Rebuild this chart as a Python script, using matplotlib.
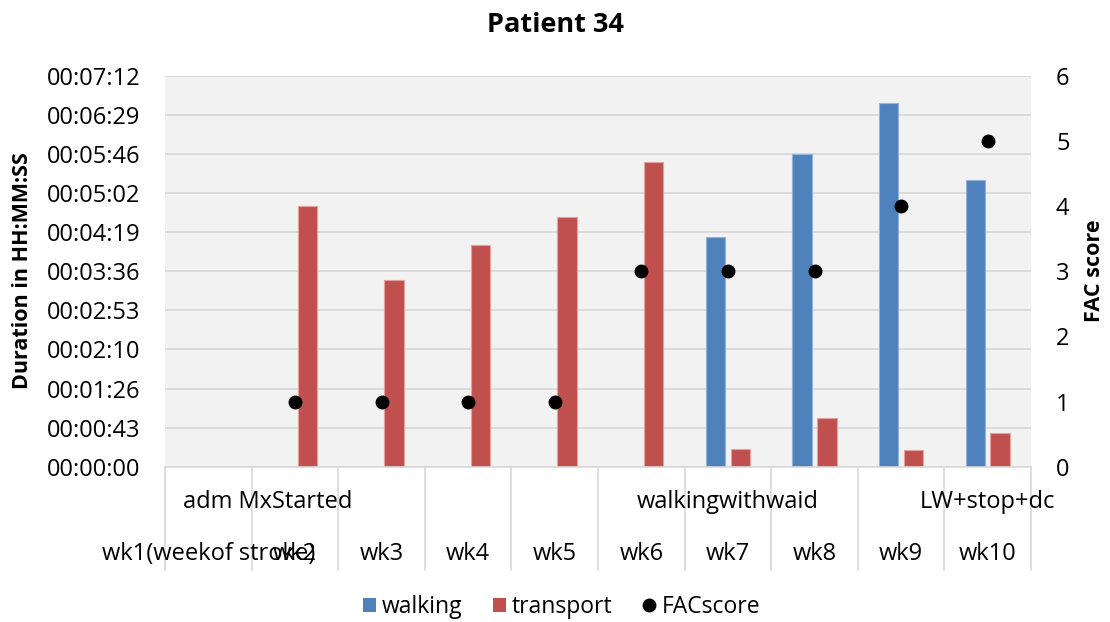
import matplotlib.pyplot as plt
import numpy as np
from matplotlib.ticker import FuncFormatter
from matplotlib.transforms import blended_transform_factory
from matplotlib.patches import Patch
from matplotlib.lines import Line2D

plt.rcParams.update({'font.family': ['Open Sans', 'DejaVu Sans'], 'font.size': 17})

# data (durations in seconds)
weeks = ["wk1(weekof stroke)", "wk2", "wk3", "wk4", "wk5", "wk6", "wk7", "wk8", "wk9", "wk10"]
phases = ["adm MxStarted", "walkingwithwaid", "LW+stop+dc"]
phase_pos = [0.68, 6, 9]
walking = [np.nan, np.nan, np.nan, np.nan, np.nan, np.nan, 254, 346, 402, 317]
transport = [np.nan, 288, 206, 245, 276, 337, 20, 54, 18, 37]
fac_score = [np.nan, 1, 1, 1, 1, 3, 3, 3, 4, 5]

blue = '#4F81BD'
red = '#C0504D'
grid = '#D9D9D9'

fig = plt.figure(figsize=(11.1, 6.22), dpi=100)
ax = fig.add_axes([165/1110, 1 - 466.7/622, 866/1110, 391/622])
ax.set_facecolor('#F2F2F2')

x = np.arange(len(weeks))
ax.bar(x - 0.143, walking, 0.223, color=blue, edgecolor='#95B3D7', linewidth=0.8, zorder=2)
ax.bar(x + 0.143, transport, 0.223, color=red, edgecolor='#E6A09E', linewidth=0.8, zorder=2)

def hms(v, pos=None):
    s = int(round(v))
    return f"{s // 3600:02d}:{s % 3600 // 60:02d}:{s % 60:02d}"

ax.set_xlim(-0.5, 9.5)
ax.set_ylim(0, 432)
ax.set_yticks(np.linspace(0, 432, 11))
ax.yaxis.set_major_formatter(FuncFormatter(hms))
ax.grid(axis='y', color=grid, lw=1.3)
ax.set_axisbelow(True)
ax.set_xticks([])
ax.tick_params(axis='y', length=0, pad=18)
for s in ax.spines.values():
    s.set_visible(False)

ax2 = ax.twinx()
ax2.set_xlim(-0.5, 9.5)
ax2.set_ylim(0, 6)
ax2.set_yticks(range(7))
ax2.tick_params(axis='y', length=0, pad=18)
for s in ax2.spines.values():
    s.set_visible(False)
ax2.plot(x, fac_score, 'o', color='black', ms=9, ls='none', zorder=3)

# multi-level category axis
trans = blended_transform_factory(ax.transData, ax.transAxes)
ax.plot([-0.5, 9.5], [0, 0], transform=trans, color=grid, lw=1.2, clip_on=False)
for b in np.arange(-0.5, 10, 1):
    ax.plot([b, b], [0, -0.264], transform=trans, color=grid, lw=1.2, clip_on=False)
for i, w in enumerate(weeks):
    ax.text(i, -0.223, w, transform=trans, ha='center', va='center', fontsize=17)
for p, t in zip(phase_pos, phases):
    ax.text(p, -0.0895, t, transform=trans, ha='center', va='center', fontsize=17)

fig.text(0.5, 1 - 25/622, "Patient 34", ha='center', va='center', fontsize=19.5, fontweight='bold')
fig.text(22.5/1110, 1 - 271/622, "Duration in HH:MM:SS", rotation=90, ha='center', va='center',
         fontsize=15.5, fontweight='bold')
fig.text(1094.7/1110, 1 - 271/622, "FAC score", rotation=90, ha='center', va='center',
         fontsize=15.5, fontweight='bold')

handles = [Patch(facecolor=blue), Patch(facecolor=red),
           Line2D([], [], marker='o', color='black', ls='none', ms=9)]
fig.legend(handles, ["walking", "transport", "FACscore"], loc='center',
           bbox_to_anchor=(0.506, 1 - 607/622), ncol=3, frameon=False, fontsize=16.5,
           handlelength=0.6, handleheight=0.6, handletextpad=0.25, columnspacing=1.3)

fig.savefig('out.png', dpi=100)
